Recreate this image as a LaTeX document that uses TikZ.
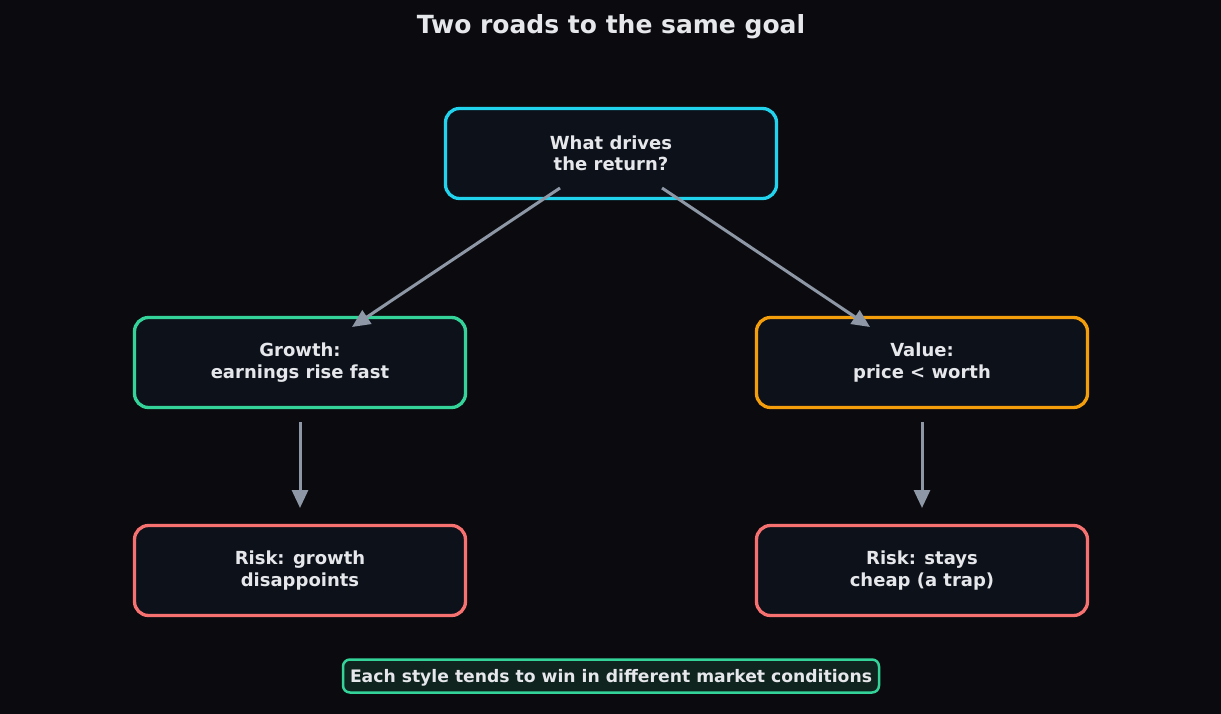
\documentclass[tikz,border=0pt]{standalone}
\usepackage{fontspec}
\setmainfont{DejaVu Sans}
\usetikzlibrary{arrows.meta}
\definecolor{bg}{HTML}{0B0B0F}
\definecolor{boxfill}{HTML}{0D111A}
\definecolor{txt}{HTML}{E5E7EB}
\definecolor{ccyan}{HTML}{22D3EE}
\definecolor{cgreen}{HTML}{34D399}
\definecolor{corange}{HTML}{F59E0B}
\definecolor{cred}{HTML}{F87171}
\definecolor{carrow}{HTML}{8D97A5}
\definecolor{footfill}{HTML}{10241F}
\tikzset{
  box/.style={draw, line width=3.3pt, fill=boxfill, rounded corners=14pt,
    minimum width=331pt, minimum height=90pt, inner sep=0pt,
    align=center, text=txt, font=\bfseries\fontsize{18}{21.5}\selectfont},
  conn/.style={draw=carrow, line width=3pt,
    -{Triangle[length=18pt,width=16pt]}},
}
\begin{document}
\begin{tikzpicture}[x=1pt,y=-1pt]
\fill[bg] (0,0) rectangle (1221,714);
\useasboundingbox (0,0) rectangle (1221,714);
\node[text=txt, font=\bfseries\fontsize{25}{30}\selectfont] (title) at (611,26.5) {Two roads to the same goal};
\node[box, draw=ccyan] (q) at (611,153.5) {What drives\\the return?};
\node[box, draw=cgreen] (g) at (300,362.5) {Growth:\\earnings rise fast};
\node[box, draw=corange] (v) at (922,362.5) {Value:\\price < worth};
\node[box, draw=cred] (rg) at (300,570.5) {Risk: growth\\disappoints};
\node[box, draw=cred] (rv) at (922,570.5) {Risk: stays\\cheap (a trap)};
\node[draw=cgreen, line width=2.5pt, fill=footfill, rounded corners=7pt,
  minimum width=536pt, minimum height=33pt, inner sep=0pt,
  text height=15.5pt, text depth=2.5pt,
  text=txt, font=\bfseries\fontsize{17.2}{20}\selectfont] (foot) at (611,676)
  {Each style tends to win in different market conditions};
\coordinate (qa) at (560,188);
\coordinate (qb) at (662,188);
\coordinate (ga) at (352,327);
\coordinate (vb) at (870,327);
\coordinate (gs) at (300,422);
\coordinate (ge) at (300,508);
\coordinate (vs) at (922,422);
\coordinate (ve) at (922,508);
\draw[conn] (qa) -- (ga);
\draw[conn] (qb) -- (vb);
\draw[conn] (gs) -- (ge);
\draw[conn] (vs) -- (ve);
\end{tikzpicture}
\end{document}
